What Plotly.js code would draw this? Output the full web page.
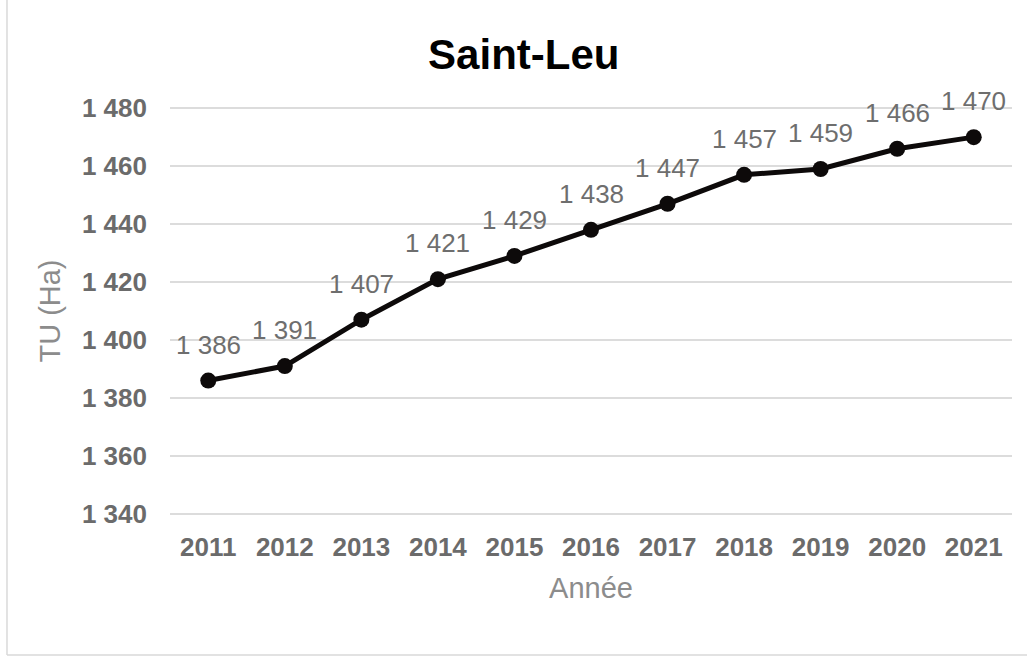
<!DOCTYPE html>
<html>
<head>
<meta charset="utf-8">
<script src="https://cdn.plot.ly/plotly-3.0.1.min.js"></script>
<style>
html,body{margin:0;padding:0;background:#fff;}
#chart{width:1027px;height:657px;}
</style>
</head>
<body>
<div id="chart"></div>
<script>
var years = ["2011","2012","2013","2014","2015","2016","2017","2018","2019","2020","2021"];
var tuHa = [1386,1391,1407,1421,1429,1438,1447,1457,1459,1466,1470];
var yTicks = [1340,1360,1380,1400,1420,1440,1460,1480];

function fmt(v) {
  return String(v).replace(/\B(?=(\d{3})+(?!\d))/g, ' ');
}

var trace = {
  x: years,
  y: tuHa,
  type: 'scatter',
  mode: 'lines+markers',
  line: {color: '#0d0a0a', width: 5},
  marker: {color: '#0d0a0a', size: 16},
  cliponaxis: false,
  hoverinfo: 'x+y'
};

var annotations = years.map(function (yr, i) {
  return {
    x: i, y: tuHa[i], xref: 'x', yref: 'y',
    text: fmt(tuHa[i]),
    showarrow: false,
    yshift: 36,
    font: {family: 'Liberation Sans, Arial, sans-serif', size: 26, color: '#6e6e6e'}
  };
});

var layout = {
  width: 1027,
  height: 657,
  separators: ', ',
  paper_bgcolor: '#ffffff',
  plot_bgcolor: '#ffffff',
  margin: {l: 170, r: 15, t: 107, b: 142},
  showlegend: false,
  title: {
    text: '<b>Saint-Leu</b>',
    font: {family: 'Liberation Sans, Arial, sans-serif', size: 42, color: '#000000'},
    x: 0.51, xref: 'container', xanchor: 'center',
    y: 0.918, yref: 'container', yanchor: 'middle'
  },
  xaxis: {
    type: 'category',
    range: [-0.5, 10.5],
    showgrid: false,
    zeroline: false,
    showline: false,
    ticks: '',
    ticklabelstandoff: 14,
    tickfont: {family: 'Liberation Sans, Arial, sans-serif', size: 26, color: '#6b6b6b', weight: 'bold'},
    title: {text: 'Année', standoff: 16,
      font: {family: 'Liberation Sans, Arial, sans-serif', size: 29, color: '#8c8c8c'}}
  },
  yaxis: {
    range: [1339.6, 1480.4],
    tickvals: yTicks,
    tickformat: ',d',
    showgrid: true,
    gridcolor: '#dcdcdc',
    gridwidth: 1.5,
    zeroline: false,
    showline: false,
    ticks: '',
    ticklabelstandoff: 22,
    tickfont: {family: 'Liberation Sans, Arial, sans-serif', size: 26, color: '#6b6b6b', weight: 'bold'},
    title: {text: 'TU (Ha)', standoff: 12,
      font: {family: 'Liberation Sans, Arial, sans-serif', size: 29, color: '#8c8c8c'}}
  },
  annotations: annotations,
  shapes: [
    {type: 'line', xref: 'paper', yref: 'paper', x0: -0.1936, x1: -0.1936, y0: -0.343, y1: 1.3,
     line: {color: '#d9d9d9', width: 1.5}},
    {type: 'line', xref: 'paper', yref: 'paper', x0: -0.1936, x1: 1.02, y0: -0.343, y1: -0.343,
     line: {color: '#d9d9d9', width: 1.5}}
  ]
};

Plotly.newPlot('chart', [trace], layout, {displayModeBar: false, staticPlot: true});
</script>
</body>
</html>
